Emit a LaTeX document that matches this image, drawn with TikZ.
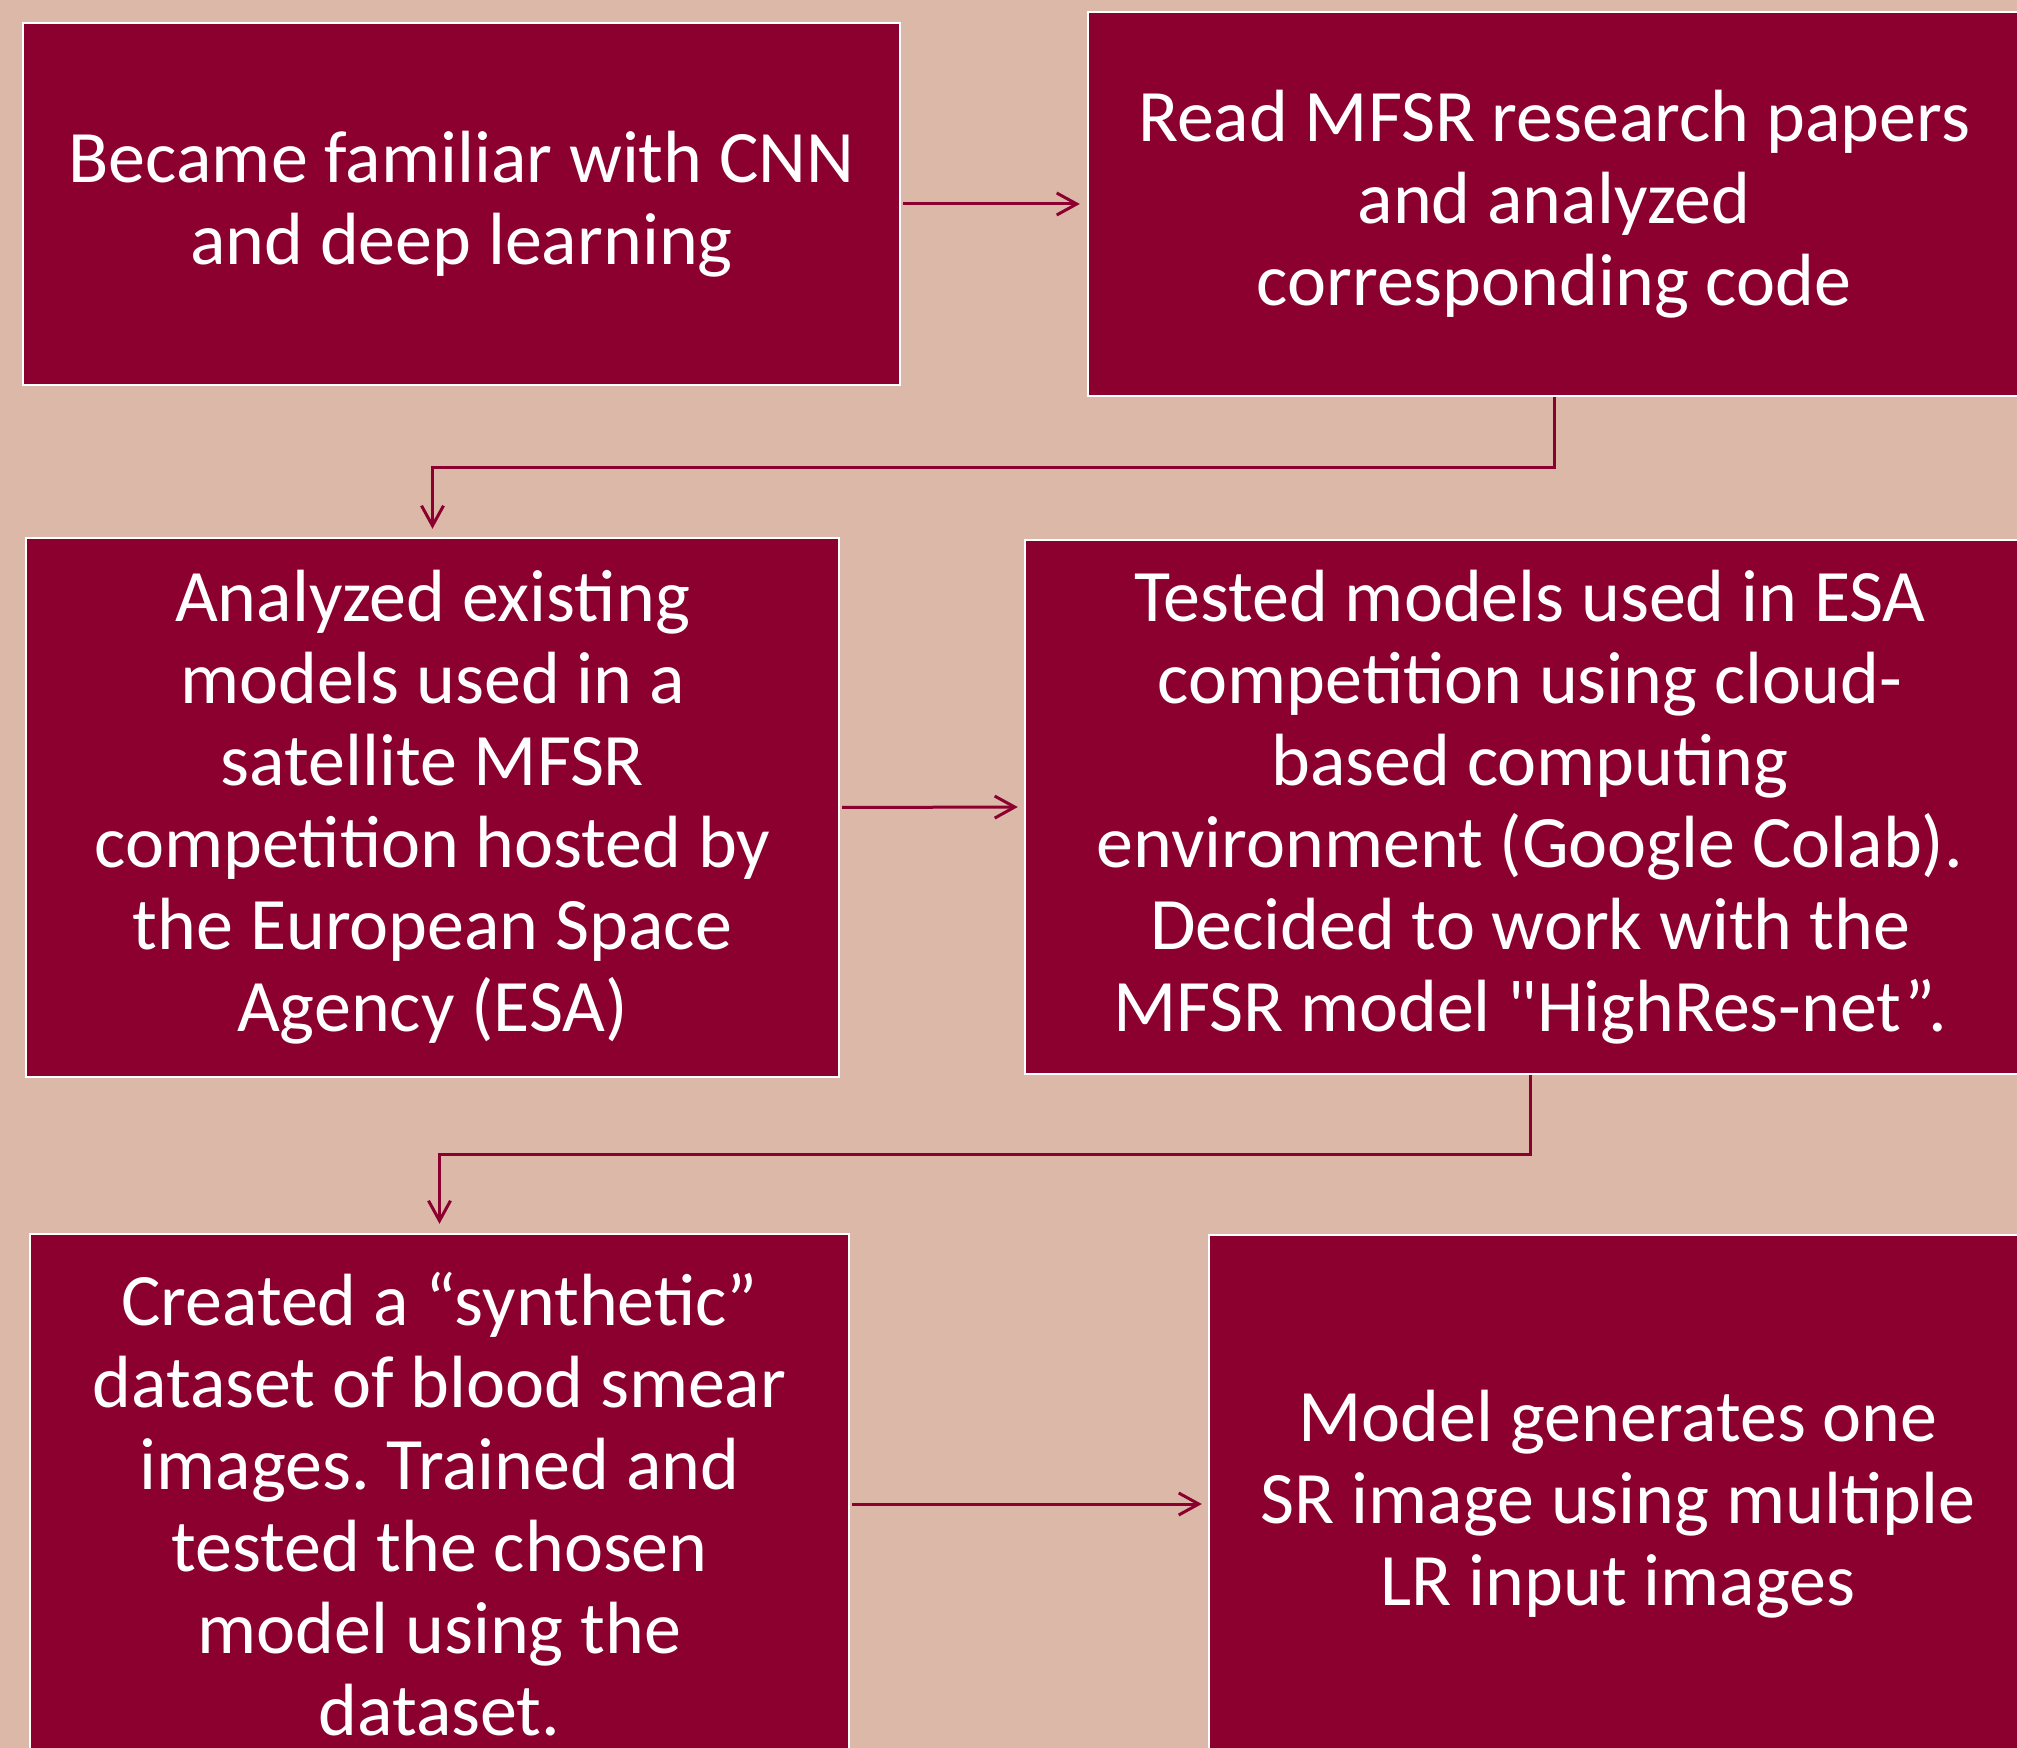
\documentclass[tikz,border=0pt]{standalone}
\usepackage{fontspec}
\setmainfont{Carlito}
\usetikzlibrary{arrows.meta}
\definecolor{bgtan}{RGB}{219,184,168}
\definecolor{boxred}{RGB}{139,0,46}
\tikzset{
  stepbox/.style={fill=boxred, draw=white, line width=1.2pt, text=white,
    align=center, inner sep=0pt,
    font=\fontsize{37}{41}\selectfont},
  flow/.style={draw=boxred, line width=1.5pt,
    -{Straight Barb[length=10pt,width=11pt]}}
}
\frenchspacing
\begin{document}
\begin{tikzpicture}[x=0.5pt,y=-0.5pt]
  \useasboundingbox (0,0) rectangle (2017,1748);
  \fill[bgtan] (0,0) rectangle (2017,1748);

  \node[stepbox, minimum width=438.5pt, minimum height=181pt] (b1) at (461.5,204)
    {Became familiar with CNN\\and deep learning};
  \node[stepbox, minimum width=466pt, minimum height=192pt] (b2) at (1554,204)
    {Read MFSR research papers\\and analyzed\\corresponding code};
  \node[stepbox, minimum width=406.5pt, minimum height=269.5pt] (b3) at (432.5,807.5)
    {Analyzed existing\\models used in a\\satellite MFSR\\competition hosted by\\the European Space\\Agency (ESA)};
  \node[stepbox, minimum width=505pt, minimum height=267pt] (b4) at (1530,807)
    {Tested models used in ESA\\competition using cloud-\\based computing\\environment (Google Colab).\\Decided to work with the\\MFSR model \textquotedbl HighRes-net”.};
  \node[stepbox, minimum width=409.5pt, minimum height=270pt] (b5) at (439.5,1504)
    {Created a “synthetic”\\dataset of blood smear\\images. Trained and\\tested the chosen\\model using the\\dataset.};
  \node[stepbox, minimum width=409pt, minimum height=269pt] (b6) at (1618,1504)
    {Model generates one\\SR image using multiple\\LR input images};

  \coordinate (m1) at (1000,468);
  \coordinate (m2) at (1000,1154);

  \draw[flow, shorten <=1pt, shorten >=3.5pt] (b1.east) -- (b2.west);
  \draw[flow, shorten >=4pt] (b2.south) |- (m1) -| (b3.north);
  \draw[flow, shorten <=1pt, shorten >=3pt] (b3.east) -- (b4.west);
  \draw[flow, shorten >=4.5pt] (b4.south) |- (m2) -| (b5.north);
  \draw[flow, shorten <=1pt, shorten >=3pt] (b5.east) -- (b6.west);
\end{tikzpicture}
\end{document}
